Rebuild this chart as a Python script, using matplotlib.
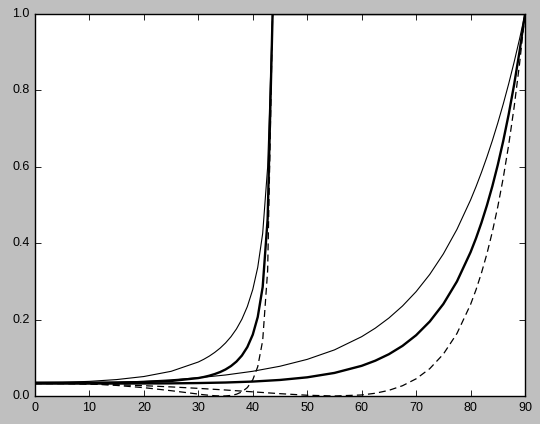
import matplotlib
matplotlib.use("Agg")
from matplotlib import pyplot as plt

# angle of incidence (degrees), air -> glass side
ext_angle = [0, 5, 10, 15, 20, 25, 30, 35, 40, 45, 50, 55, 60, 62.5, 65, 67.5,
             70, 72.5, 75, 77.5, 80, 81, 82, 83, 84, 85, 86, 87, 88, 89, 90]
ext_s = [0.0325, 0.0329, 0.0339, 0.0358, 0.0385, 0.0424, 0.0478, 0.0550, 0.0647,
         0.0779, 0.0959, 0.1207, 0.1553, 0.1776, 0.2041, 0.2356, 0.2732, 0.3182,
         0.3719, 0.4362, 0.5131, 0.5479, 0.5853, 0.6254, 0.6684, 0.7146, 0.7641,
         0.8171, 0.8740, 0.9348, 1.0]
ext_p = [0.0325, 0.0322, 0.0311, 0.0294, 0.0270, 0.0238, 0.0200, 0.0157, 0.0109,
         0.0061, 0.0020, 0.0000, 0.0027, 0.0072, 0.0148, 0.0269, 0.0450, 0.0715,
         0.1096, 0.1636, 0.2396, 0.2780, 0.3219, 0.3721, 0.4296, 0.4954, 0.5707,
         0.6571, 0.7560, 0.8696, 1.0]
ext_avg = [0.0325, 0.0325, 0.0325, 0.0326, 0.0328, 0.0331, 0.0339, 0.0353, 0.0378,
           0.0420, 0.0489, 0.0604, 0.0790, 0.0924, 0.1094, 0.1312, 0.1591, 0.1949,
           0.2408, 0.2999, 0.3764, 0.4129, 0.4536, 0.4988, 0.5490, 0.6050, 0.6674,
           0.7371, 0.8150, 0.9022, 1.0]

# glass -> air side, total reflection past the critical angle
int_angle = [0, 5, 10, 15, 20, 25, 30, 31, 32, 33, 34, 35, 36, 37, 38, 39, 40,
             40.91, 41.82, 42.73, 43.64, 90]
int_s = [0.0350, 0.0358, 0.0383, 0.0430, 0.0510, 0.0646, 0.0890, 0.0961, 0.1043,
         0.1140, 0.1253, 0.1389, 0.1553, 0.1755, 0.2010, 0.2341, 0.2789, 0.3367,
         0.4258, 0.5991, 1.0, 1.0]
int_p = [0.0350, 0.0342, 0.0318, 0.0277, 0.0218, 0.0139, 0.0050, 0.0033, 0.0019,
         0.0007, 0.0001, 0.0002, 0.0015, 0.0046, 0.0108, 0.0220, 0.0425, 0.0767,
         0.1452, 0.3282, 1.0, 1.0]
int_avg = [0.0350, 0.0350, 0.0350, 0.0354, 0.0364, 0.0393, 0.0470, 0.0497, 0.0531,
           0.0574, 0.0627, 0.0695, 0.0784, 0.0901, 0.1059, 0.1281, 0.1607, 0.2067,
           0.2855, 0.4637, 1.0, 1.0]

plt.style.use('classic')
plt.rcParams['font.family'] = ['Liberation Sans', 'DejaVu Sans']
plt.rcParams['font.size'] = 9

fig = plt.figure(figsize=(5.4, 4.24), dpi=100, facecolor='#bfbfbf')
ax = fig.add_axes([35 / 540, 1 - 396 / 424, 490 / 540, 382 / 424])
ax.set_facecolor('white')

#thin = s, thick = average, dashed = p
ax.plot(ext_angle, ext_s, color='k', lw=0.8)
ax.plot(ext_angle, ext_avg, color='k', lw=1.7)
ax.plot(ext_angle, ext_p, color='k', lw=0.9, ls=(0, (5, 3)))
ax.plot(int_angle, int_s, color='k', lw=0.8)
ax.plot(int_angle, int_avg, color='k', lw=1.7)
ax.plot(int_angle, int_p, color='k', lw=0.9, ls=(0, (5, 3)))

ax.set_xlim(0, 90)
ax.set_ylim(0, 1)
ax.set_xticks(range(0, 91, 10))
ax.set_yticks([0.0, 0.2, 0.4, 0.6, 0.8, 1.0])
ax.tick_params(length=4, width=0.6, pad=4, labelsize=9)

fig.savefig('out.png', dpi=100, facecolor=fig.get_facecolor())
